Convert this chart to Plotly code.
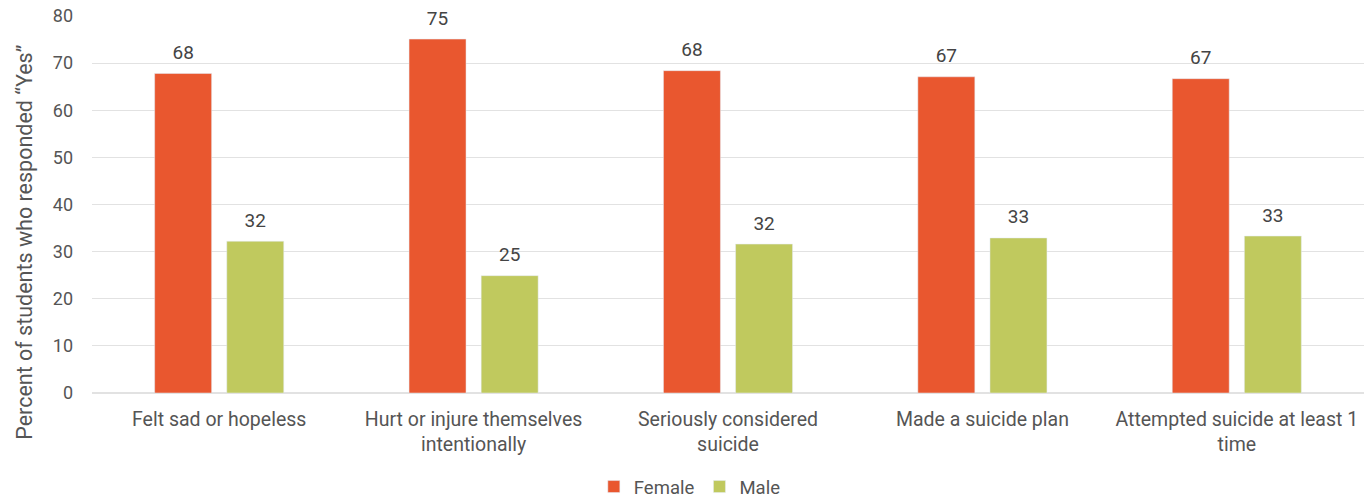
import plotly.graph_objects as go

# Categories and percentages by sex
categories = [
    "Felt sad or hopeless",
    "Hurt or injure themselves intentionally",
    "Seriously considered suicide",
    "Made a suicide plan",
    "Attempted suicide at least 1 time",
]
tick_labels = [
    "Felt sad or hopeless",
    "Hurt or injure themselves<br>intentionally",
    "Seriously considered<br>suicide",
    "Made a suicide plan",
    "Attempted suicide at least 1<br>time",
]
female = [67.8, 75.1, 68.4, 67.1, 66.7]
male = [32.2, 24.9, 31.6, 32.9, 33.3]

FEMALE_COLOR = "#E9572F"
MALE_COLOR = "#C0C95E"
TEXT_COLOR = "#555555"
FONT = "Roboto, 'Open Sans', sans-serif"
GAP = 0.433

fig = go.Figure()
fig.add_trace(go.Bar(name="Female", x=categories, y=female,
                     marker=dict(color=FEMALE_COLOR), offsetgroup="f"))
fig.add_trace(go.Bar(name="Male", x=categories, y=male,
                     marker=dict(color=MALE_COLOR), offsetgroup="m"))

# Value labels above each bar (invisible markers lift the text off the bar top)
for vals, grp in ((female, "f"), (male, "m")):
    fig.add_trace(go.Scatter(
        x=categories, y=vals, mode="markers+text", offsetgroup=grp,
        text=[f"{v:.0f}" for v in vals], textposition="top center",
        textfont=dict(size=19, color="#444444", family=FONT),
        marker=dict(size=14, opacity=0), showlegend=False, hoverinfo="skip",
        cliponaxis=False,
    ))

fig.update_layout(
    width=1366, height=499,
    margin=dict(l=92, r=2, t=16, b=106),
    paper_bgcolor="white", plot_bgcolor="white",
    font=dict(family=FONT, color=TEXT_COLOR, size=15),
    barmode="group", bargap=GAP, bargroupgap=0.21,
    scattermode="group", scattergap=GAP,
    legend=dict(orientation="h", xref="container", yref="container",
                x=0.505, xanchor="center", y=0.024, yanchor="middle",
                font=dict(size=18.5, color=TEXT_COLOR), traceorder="normal",
                itemwidth=30),
    xaxis=dict(tickmode="array", tickvals=categories, ticktext=tick_labels,
               tickfont=dict(size=19.5, color=TEXT_COLOR), showgrid=False,
               showline=False, ticks="", ticklabelstandoff=12),
    yaxis=dict(range=[0, 80], dtick=10, showgrid=True, gridcolor="#e2e2e2",
               gridwidth=1, zeroline=True, zerolinecolor="#e2e2e2",
               tickfont=dict(size=18, color=TEXT_COLOR), ticklabelstandoff=18),
    annotations=[dict(
        text="Percent of students who responded “Yes”",
        xref="paper", yref="paper", x=-0.053, y=0.40,
        xanchor="center", yanchor="middle", textangle=-90, showarrow=False,
        font=dict(size=21.5, color=TEXT_COLOR, family=FONT),
    )],
)

fig.write_html("out.html")
